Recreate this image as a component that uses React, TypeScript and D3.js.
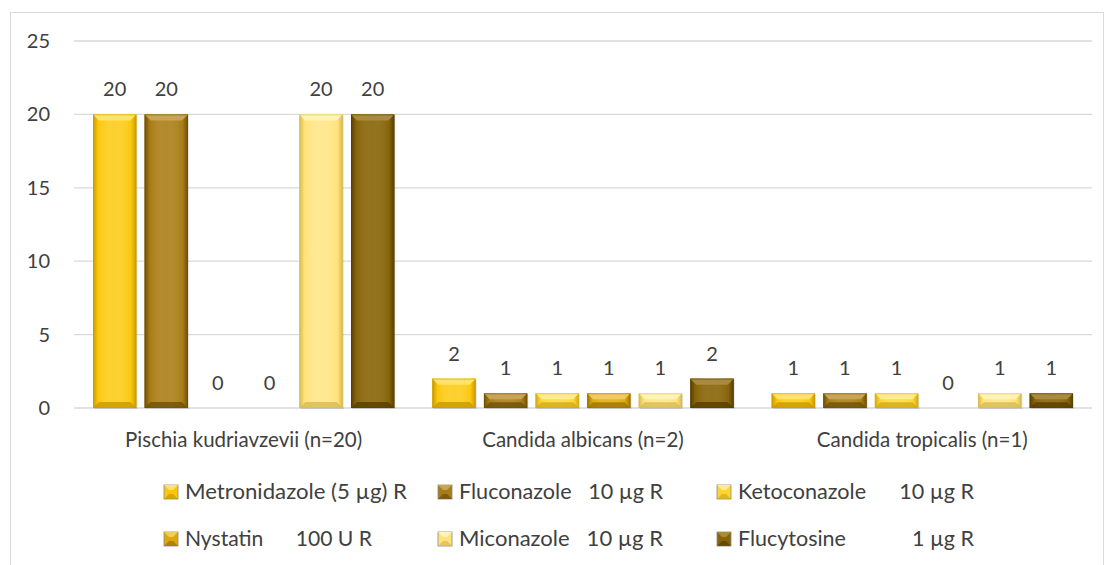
import React from "react";
import * as d3 from "d3";

const categories = ["Pischia kudriavzevii (n=20)", "Candida albicans (n=2)", "Candida tropicalis (n=1)"];
const seriesNames = [
  "Metronidazole (5 µg) R",
  "Fluconazole   10 µg R",
  "Ketoconazole      10 µg R",
  "Nystatin      100 U R",
  "Miconazole   10 µg R",
  "Flucytosine            1 µg R",
];
const metronidazole = [20, 2, 1];
const fluconazole = [20, 1, 1];
const ketoconazole = [0, 1, 1];
const nystatin = [0, 1, 0];
const miconazole = [20, 1, 1];
const flucytosine = [20, 2, 1];
const yTicks = [0, 5, 10, 15, 20, 25];

const seriesValues = [metronidazole, fluconazole, ketoconazole, nystatin, miconazole, flucytosine];
const colors = [
  { base: "#FBC70C", light: "#FFE36A", dark: "#C99A00" },
  { base: "#A67C14", light: "#C9A458", dark: "#6F5008" },
  { base: "#FFD52E", light: "#FFEC8A", dark: "#D2AA18" },
  { base: "#DDA80C", light: "#F2CC5A", dark: "#9C7404" },
  { base: "#FFE27A", light: "#FFF3B8", dark: "#D8BA52" },
  { base: "#87640A", light: "#A98A3E", dark: "#573F00" },
];

const W = 1112, H = 565;
const plot = { left: 74, right: 1092, top: 41, bottom: 408 };
const FONT = "Lato, 'Open Sans', sans-serif";
const TXT = "#404040";

export default function App() {
  const y = d3.scaleLinear().domain([0, 25]).range([plot.bottom, plot.top]);
  const x0 = d3.scaleBand<string>().domain(categories).range([plot.left, plot.right]).padding(0);
  const inset = 19;
  const x1 = d3
    .scaleBand<number>()
    .domain(d3.range(seriesNames.length))
    .range([inset, x0.bandwidth() - inset])
    .paddingInner(0.16)
    .paddingOuter(0);
  const bw = x1.bandwidth();

  const legendCols = [171, 445, 724];
  const legendRows = [492, 539];
  const legendWidths = [222, 204, 236, 187, 204, 236];

  return (
    <svg width={W} height={H} style={{ position: "absolute", left: 0, top: 0 }} fontFamily={FONT}>
      <defs>
        {colors.map((c, i) => (
          <linearGradient key={i} id={`g${i}`} x1="0" x2="1" y1="0" y2="0">
            <stop offset="0" stopColor={c.dark} />
            <stop offset="0.12" stopColor={c.base} />
            <stop offset="0.5" stopColor={c.light} stopOpacity={0.35} />
            <stop offset="0.88" stopColor={c.base} />
            <stop offset="1" stopColor={c.dark} />
          </linearGradient>
        ))}
      </defs>
      <rect x={0} y={0} width={W} height={H} fill="#fff" />
      <rect x={10.5} y={12.5} width={1093} height={560} fill="#fff" stroke="#D9D9D9" />
      {yTicks.map((t) => (
        <g key={t}>
          <line x1={plot.left} x2={plot.right} y1={y(t)} y2={y(t)} stroke="#D9D9D9" strokeWidth={1.3} />
          <text x={50} y={y(t)} dy="0.35em" textAnchor="end" fontSize={20} fill={TXT}>
            {t}
          </text>
        </g>
      ))}
      {categories.map((cat, ci) => (
        <g key={cat} transform={`translate(${x0(cat)},0)`}>
          {seriesValues.map((vals, si) => {
            const v = vals[ci];
            const bx = x1(si)!;
            const top = y(v);
            const h = y(0) - top;
            const c = colors[si];
            const b = Math.min(6, h / 2.5);
            return (
              <g key={si}>
                {h > 0 && (
                  <g>
                    <rect x={bx + 1} y={top + 1} width={bw} height={h} fill="#000" opacity={0.12} />
                    <rect x={bx} y={top} width={bw} height={h} fill={c.base} />
                    <rect x={bx} y={top} width={bw} height={h} fill={`url(#g${si})`} />
                    <polygon
                      points={`${bx},${top} ${bx + bw},${top} ${bx + bw - b},${top + b} ${bx + b},${top + b}`}
                      fill={c.light}
                    />
                    <polygon
                      points={`${bx},${top + h} ${bx + bw},${top + h} ${bx + bw - b},${top + h - b} ${bx + b},${top + h - b}`}
                      fill={c.dark}
                      opacity={0.8}
                    />
                    <rect x={bx + 0.5} y={top + 0.5} width={bw - 1} height={h - 1} fill="none" stroke={c.dark} strokeOpacity={0.5} />
                  </g>
                )}
                <text x={bx + bw / 2} y={top - 25} dy="0.35em" textAnchor="middle" fontSize={20} fill={TXT}>
                  {v}
                </text>
              </g>
            );
          })}
          <text x={x0.bandwidth() / 2} y={440} dy="0.35em" textAnchor="middle" fontSize={20.5} fill={TXT}>
            {cat}
          </text>
        </g>
      ))}
      {seriesNames.map((name, i) => {
        const col = i % 3;
        const row = Math.floor(i / 3);
        const lx = legendCols[col];
        const ly = legendRows[row];
        const c = colors[i];
        const s = 7;
        return (
          <g key={name}>
            <rect x={lx - s} y={ly - s} width={2 * s} height={2 * s} fill={c.base} stroke="#8a8a8a" strokeWidth={0.8} />
            <polygon points={`${lx - s},${ly - s} ${lx + s},${ly - s} ${lx + 2},${ly - 2} ${lx - 2},${ly - 2}`} fill={c.light} />
            <polygon points={`${lx - s},${ly + s} ${lx + s},${ly + s} ${lx + 2},${ly + 2} ${lx - 2},${ly + 2}`} fill={c.dark} opacity={0.7} />
            <text
              x={lx + 14}
              y={ly}
              dy="0.35em"
              fontSize={21}
              fill={TXT}
              textLength={legendWidths[i]}
              lengthAdjust="spacingAndGlyphs"
              style={{ whiteSpace: "pre" }}
            >
              {name}
            </text>
          </g>
        );
      })}
    </svg>
  );
}
